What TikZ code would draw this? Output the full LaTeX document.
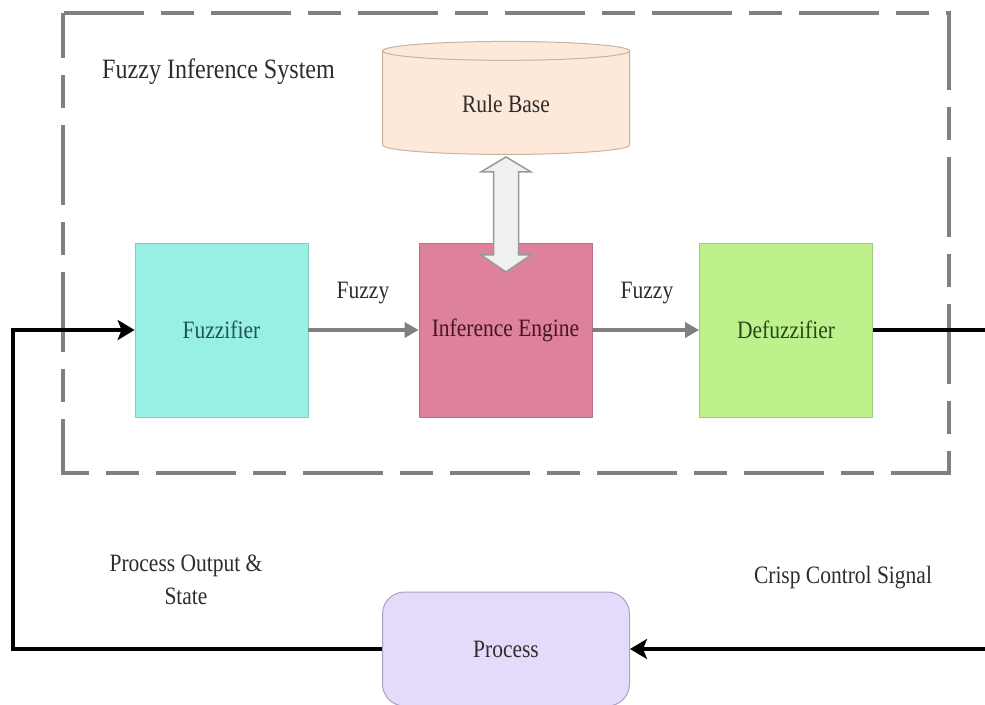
\documentclass[tikz,border=0pt]{standalone}
\usepackage{fontspec}
\setmainfont{Liberation Serif}[FakeStretch=0.86]
\usetikzlibrary{arrows.meta,shapes.geometric,calc}

\definecolor{fuzzfill}{RGB}{152,240,228}
\definecolor{fuzztext}{RGB}{35,85,80}
\definecolor{engfill}{RGB}{222,130,155}
\definecolor{engtext}{RGB}{70,20,40}
\definecolor{defuzzfill}{RGB}{190,240,140}
\definecolor{defuzztext}{RGB}{35,75,25}
\definecolor{rulefill}{RGB}{253,232,218}
\definecolor{ruledraw}{RGB}{200,178,160}
\definecolor{procfill}{RGB}{228,219,250}
\definecolor{procdraw}{RGB}{170,160,200}
\definecolor{txt}{RGB}{45,45,45}
\definecolor{flowgray}{RGB}{128,128,128}

\newcommand\bodyfont{\fontsize{25}{33}\selectfont}
\newcommand\titlefont{\fontsize{28}{34}\selectfont}

\begin{document}
\begin{tikzpicture}[x=1pt,y=-1pt,
  block/.style={draw=#1!85!black, fill=#1, minimum width=173pt, minimum height=174pt,
    inner sep=0pt, line width=0.8pt, font=\bodyfont},
  lbl/.style={text=txt, inner sep=0pt, font=\bodyfont},
  sysbox/.style={draw=flowgray, line width=4pt, dash pattern=on 80pt off 17pt on 33pt off 17pt, dash phase=35pt},
  rulebase/.style={cylinder, shape border rotate=90, aspect=0.2, draw=ruledraw, fill=rulefill,
    minimum width=247pt, minimum height=113pt, line width=1pt, text=txt, font=\bodyfont},
  process/.style={rounded corners=22pt, draw=procdraw, fill=procfill, minimum width=247pt,
    minimum height=114pt, line width=1pt, text=txt, font=\bodyfont},
  dblarrow/.style={draw=gray!80, fill=gray!12, line width=1.5pt, line join=miter},
  flow/.style={draw=flowgray, line width=4pt, -{Triangle[length=14pt,width=15pt]}},
  ctrl/.style={draw=black, line width=4pt, -{Stealth[length=17pt,width=20pt,inset=4pt]}}]

  \useasboundingbox (0,0) rectangle (985,704);
  \clip (0,0) rectangle (985,704);

  % system boundary
  \draw[sysbox] (63,13) rectangle (949,473);
  \node[lbl, anchor=west, font=\titlefont] (title) at (102,72) {Fuzzy Inference System};

  % inference system blocks
  \node[rulebase] (rule) at (506,104) {Rule Base};
  \node[block=fuzzfill, text=fuzztext] (fuzz) at (221.5,330) {Fuzzifier};
  \node[block=engfill, text=engtext] (engine) at (505.5,330) {Inference Engine};
  \node[block=defuzzfill, text=defuzztext] (defuzz) at (786,330) {Defuzzifier};

  % rule base <-> engine
  \draw[dblarrow] ($(rule.south)+(0,2)$) -- ++(25,15) -- ++(-12.5,0) -- ++(0,83)
    -- ++(12.5,0) -- ++(-25,17) -- ++(-25,-17) -- ++(12.5,0) -- ++(0,-83) -- ++(-12.5,0) -- cycle;

  \draw[flow] (fuzz.east) -- (engine.west);
  \draw[flow] (engine.east) -- (defuzz.west);
  \node[lbl] (fz1) at (363,293) {Fuzzy};
  \node[lbl] (fz2) at (647,293) {Fuzzy};

  % plant and loop
  \node[process] (proc) at (506,649) {Process};
  \coordinate (fbL) at (13,500);
  \coordinate (fbR) at (995,500);
  \draw[ctrl] (proc.west) -| (fbL) |- (fuzz.west);
  \draw[ctrl] (defuzz.east) -| (fbR) |- (proc.east);

  \node[lbl, align=center] (pout) at (186,580) {Process Output \&\\State};
  \node[lbl] (ccs) at (843,578) {Crisp Control Signal};
\end{tikzpicture}
\end{document}
